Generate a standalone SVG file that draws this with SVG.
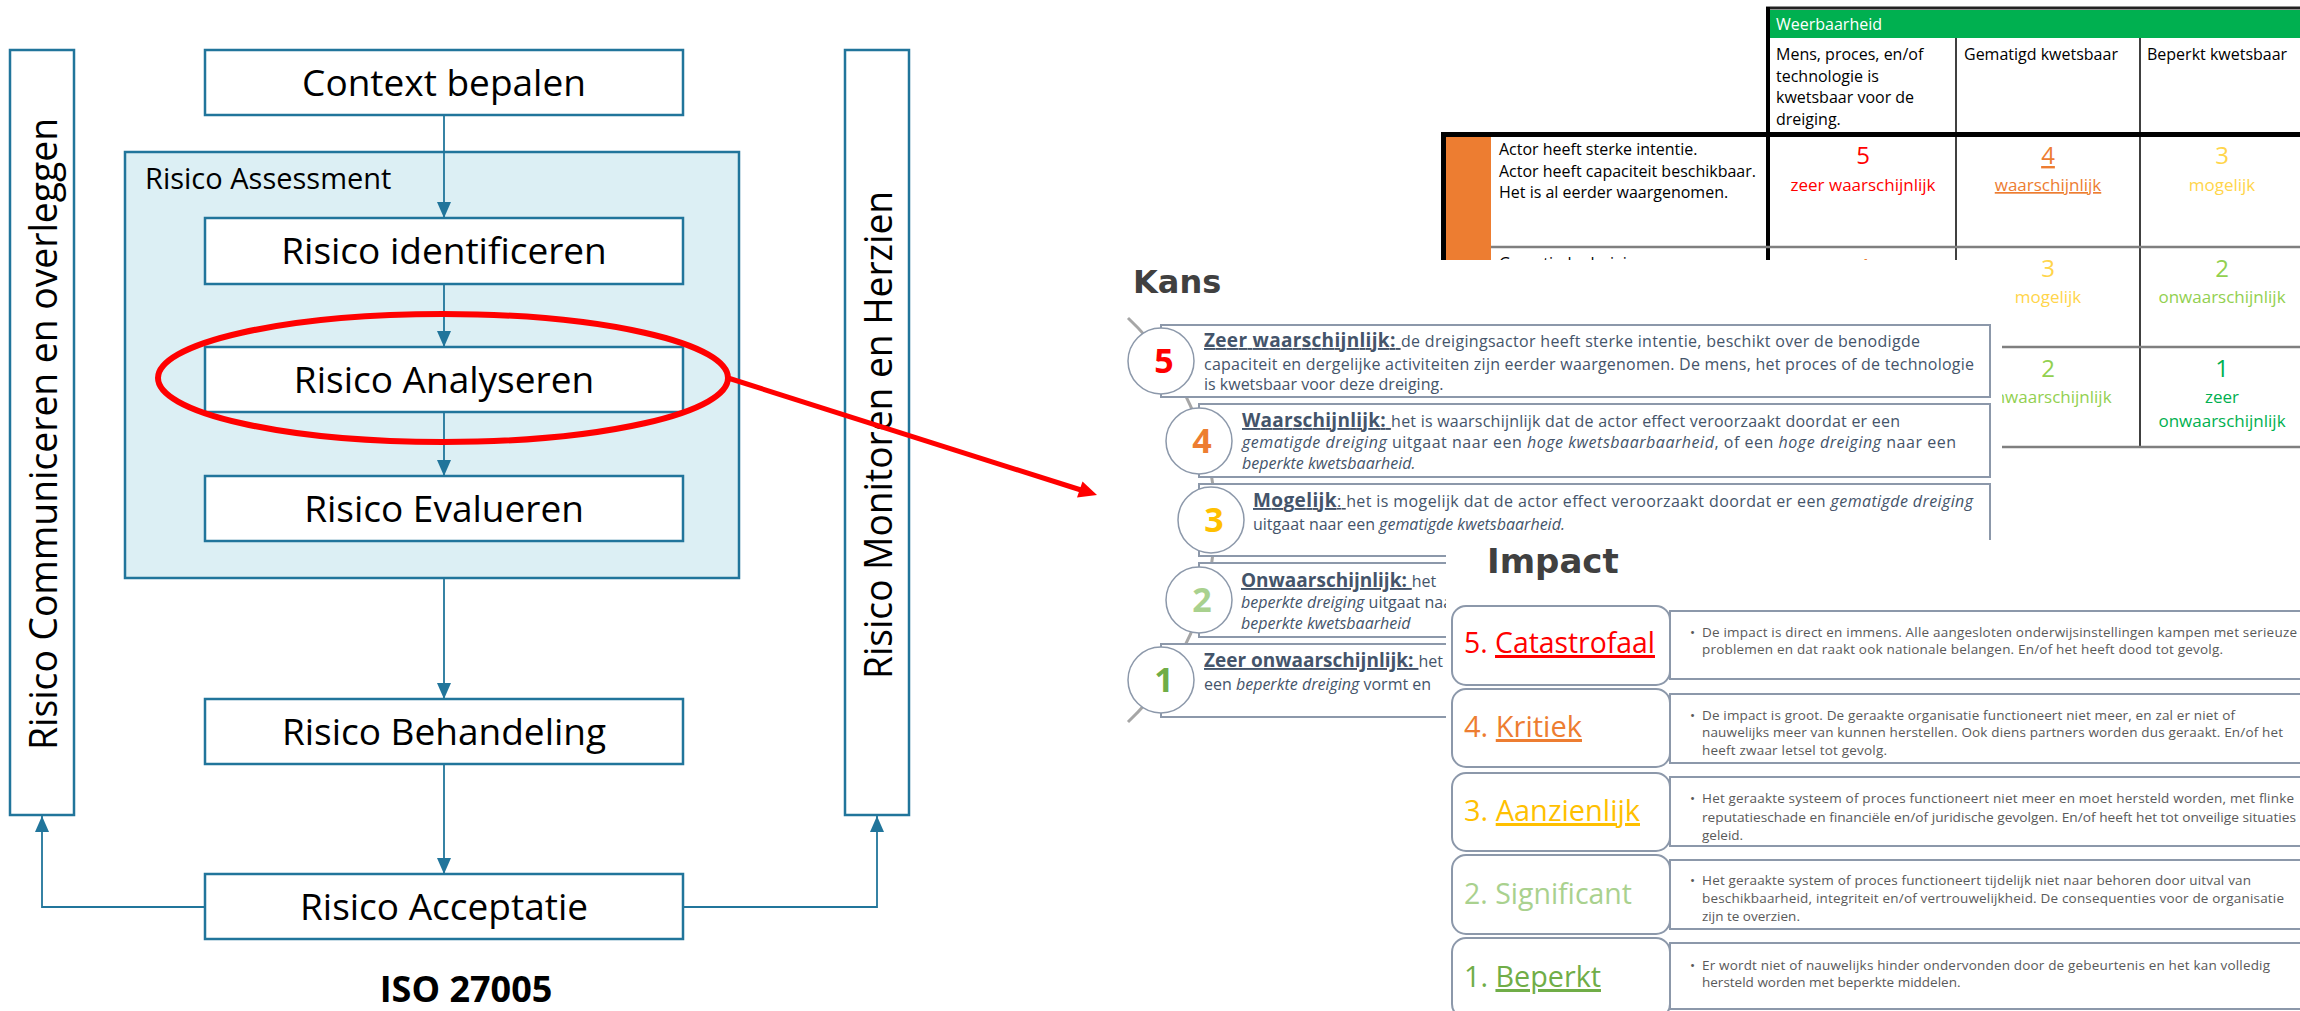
<svg xmlns="http://www.w3.org/2000/svg" width="2300" height="1011" viewBox="0 0 2300 1011">
<style>
.fb{fill:#fff;stroke:#21759B;stroke-width:2.5}
.ft{font-family:'Open Sans',sans-serif;font-size:37px;fill:#000;text-anchor:middle}
.cn{stroke:#21759B;stroke-width:1.8;fill:none}
.tb{font-family:'Open Sans',sans-serif;font-size:16px;fill:#000}
.tn{font-family:'Open Sans',sans-serif;font-size:24px;text-anchor:middle}
.tl{font-family:'Open Sans',sans-serif;font-size:17px;text-anchor:middle}
.kb{font-family:'Open Sans',sans-serif;font-size:16px;fill:#44546A}
.kt{font-weight:bold;font-size:19px;text-decoration:underline}
.u{text-decoration:underline}
.it{font-style:italic}
.kbox{fill:#fff;stroke:#8C98AA;stroke-width:2}
.kc{fill:#fff;stroke:#8C98AA;stroke-width:1.5}
.kn{font-family:'Open Sans',sans-serif;font-weight:bold;font-size:34px;text-anchor:middle}
.ttl{font-family:'DejaVu Sans',sans-serif;font-weight:bold;fill:#404040}
.ib{font-family:'Open Sans',sans-serif;font-size:13.5px;fill:#595959}
.il{font-family:'Open Sans',sans-serif;font-size:30px}
.ilb{fill:#fff;stroke:#8C98AA;stroke-width:2}
.tg{stroke:#7F7F7F;stroke-width:2.5}
.tk{stroke:#000;stroke-width:1.5}
</style>
<defs>
<marker id="ah" markerWidth="16" markerHeight="14" refX="16" refY="7" orient="auto" markerUnits="userSpaceOnUse"><path d="M0,0 L16,7 L0,14 z" fill="#21759B"/></marker>
</defs>
<rect width="2300" height="1011" fill="#fff"/>

<!-- Left flowchart -->
<g id="bar-communiceren"><rect class="fb" x="10" y="50" width="64" height="765"/>
<text class="ft" transform="translate(57,434) rotate(-90)" style="font-size:38px" textLength="632" lengthAdjust="spacingAndGlyphs">Risico Communiceren en overleggen</text></g>
<g id="bar-monitoren"><rect class="fb" x="845" y="50" width="64" height="765"/>
<text class="ft" transform="translate(892,435) rotate(-90)" style="font-size:38px" textLength="488" lengthAdjust="spacingAndGlyphs">Risico Monitoren en Herzien</text></g>
<g id="context"><rect class="fb" x="205" y="50" width="478" height="65"/><text class="ft" x="444" y="96">Context bepalen</text></g>
<g id="assessment"><rect x="125" y="152" width="614" height="426" fill="#DCEFF4" stroke="#21759B" stroke-width="2.5"/>
<text x="145" y="189" style="font-family:'Open Sans',sans-serif;font-size:29px">Risico Assessment</text></g>
<g id="identificeren"><rect class="fb" x="205" y="218" width="478" height="66"/><text class="ft" x="444" y="264">Risico identificeren</text></g>
<g id="analyseren"><rect class="fb" x="205" y="347" width="478" height="65"/><text class="ft" x="444" y="393">Risico Analyseren</text></g>
<g id="evalueren"><rect class="fb" x="205" y="476" width="478" height="65"/><text class="ft" x="444" y="522">Risico Evalueren</text></g>
<g id="behandeling"><rect class="fb" x="205" y="699" width="478" height="65"/><text class="ft" x="444" y="745">Risico Behandeling</text></g>
<g id="acceptatie"><rect class="fb" x="205" y="874" width="478" height="65"/><text class="ft" x="444" y="920">Risico Acceptatie</text></g>
<g id="iso-label"><text x="466" y="1002" style="font-family:'Open Sans',sans-serif;font-weight:bold;font-size:36px;text-anchor:middle">ISO 27005</text></g>

<g id="connectors">
<line class="cn" x1="444" y1="115" x2="444" y2="218" marker-end="url(#ah)"/>
<line class="cn" x1="444" y1="284" x2="444" y2="347" marker-end="url(#ah)"/>
<line class="cn" x1="444" y1="412" x2="444" y2="476" marker-end="url(#ah)"/>
<line class="cn" x1="444" y1="578" x2="444" y2="699" marker-end="url(#ah)"/>
<line class="cn" x1="444" y1="764" x2="444" y2="874" marker-end="url(#ah)"/>
<polyline class="cn" points="205,907 42,907 42,816" marker-end="url(#ah)"/>
<polyline class="cn" points="683,907 877,907 877,816" marker-end="url(#ah)"/>
</g>

<g id="highlight">
<ellipse cx="443" cy="378" rx="285" ry="64" fill="none" stroke="#FF0000" stroke-width="6"/>
<line x1="728" y1="378" x2="1081" y2="490" stroke="#FF0000" stroke-width="5"/>
<polygon points="1097,495 1077,497.5 1082.5,481.5" fill="#FF0000"/>
</g>

<!-- Table -->
<g id="tabel">
<rect x="1770" y="10" width="530" height="28" fill="#00B050"/>
<line x1="1766" y1="8" x2="2300" y2="8" stroke="#222" stroke-width="3"/>
<rect x="1446" y="137" width="45" height="123" fill="#ED7D31"/>
<line x1="1768" y1="7" x2="1768" y2="262" stroke="#000" stroke-width="4"/>
<line x1="1443.5" y1="132" x2="1443.5" y2="262" stroke="#000" stroke-width="5"/>
<line x1="1441" y1="134.5" x2="2300" y2="134.5" stroke="#000" stroke-width="5"/>
<line class="tk" x1="1956" y1="38" x2="1956" y2="262"/>
<line class="tk" x1="2140" y1="38" x2="2140" y2="447"/>
<line class="tg" x1="1491" y1="247" x2="2300" y2="247"/>
<line class="tg" x1="1990" y1="347" x2="2300" y2="347"/>
<line class="tg" x1="1990" y1="447" x2="2300" y2="447"/>
<text class="tb" x="1776" y="30" style="fill:#fff">Weerbaarheid</text>
<text class="tb" x="1776" y="60">Mens, proces, en/of</text>
<text class="tb" x="1776" y="82">technologie is</text>
<text class="tb" x="1776" y="103">kwetsbaar voor de</text>
<text class="tb" x="1776" y="125">dreiging.</text>
<text class="tb" x="1964" y="60">Gematigd kwetsbaar</text>
<text class="tb" x="2147" y="60">Beperkt kwetsbaar</text>
<text class="tb" x="1499" y="155">Actor heeft sterke intentie.</text>
<text class="tb" x="1499" y="177">Actor heeft capaciteit beschikbaar.</text>
<text class="tb" x="1499" y="198">Het is al eerder waargenomen.</text>
<text class="tb" x="1499" y="269">Gematigde dreiging</text>
<text class="tn" x="1863" y="164" fill="#FF0000">5</text>
<text class="tl" x="1863" y="191" fill="#FF0000">zeer waarschijnlijk</text>
<text class="tn u" x="2048" y="164" fill="#ED7D31">4</text>
<text class="tl u" x="2048" y="191" fill="#ED7D31">waarschijnlijk</text>
<text class="tn" x="2222" y="164" fill="#FFD54A">3</text>
<text class="tl" x="2222" y="191" fill="#FFD54A">mogelijk</text>
<text class="tn" x="1863" y="276" fill="#ED7D31">4</text>
<text class="tn" x="2048" y="277" fill="#FFD54A">3</text>
<text class="tl" x="2048" y="303" fill="#FFD54A">mogelijk</text>
<text class="tn" x="2222" y="277" fill="#92D050">2</text>
<text class="tl" x="2222" y="303" fill="#92D050">onwaarschijnlijk</text>
<text class="tn" x="2048" y="377" fill="#92D050">2</text>
<text class="tl" x="2048" y="403" fill="#92D050">onwaarschijnlijk</text>
<text class="tn" x="2222" y="377" fill="#00B050">1</text>
<text class="tl" x="2222" y="403" fill="#00B050">zeer</text>
<text class="tl" x="2222" y="427" fill="#00B050">onwaarschijnlijk</text>
</g>

<!-- Kans -->
<g id="kans">
<rect x="1105" y="260" width="897" height="290" fill="#fff"/>
<text class="ttl" x="1133" y="293" style="font-size:32px">Kans</text>
<path d="M1128,318 A278,278 0 0 1 1128,722" fill="none" stroke="#A6A6A6" stroke-width="3"/>
<rect class="kbox" x="1161" y="325" width="829" height="72"/>
<rect class="kbox" x="1199" y="404" width="791" height="73"/>
<rect class="kbox" x="1199" y="484" width="791" height="72"/>
<rect class="kbox" x="1199" y="563" width="791" height="74"/>
<rect class="kbox" x="1161" y="644" width="829" height="73"/>
<circle class="kc" cx="1161" cy="361" r="33"/>
<circle class="kc" cx="1199" cy="441" r="33"/>
<circle class="kc" cx="1211" cy="520" r="33"/>
<circle class="kc" cx="1199" cy="600" r="33"/>
<circle class="kc" cx="1161" cy="680" r="33"/>
<text class="kn" x="1164" y="373" fill="#FF0000">5</text>
<text class="kn" x="1202" y="453" fill="#ED7D31">4</text>
<text class="kn" x="1214" y="532" fill="#FFC000">3</text>
<text class="kn" x="1202" y="612" fill="#A9D18E">2</text>
<text class="kn" x="1164" y="692" fill="#70AD47">1</text>
<text class="kb" x="1204" y="347" textLength="716" lengthAdjust="spacing"><tspan class="kt">Zeer waarschijnlijk: </tspan> de dreigingsactor heeft sterke intentie, beschikt over de benodigde</text>
<text class="kb" x="1204" y="370" textLength="770" lengthAdjust="spacing">capaciteit en dergelijke activiteiten zijn eerder waargenomen. De mens, het proces of de technologie</text>
<text class="kb" x="1204" y="390">is kwetsbaar voor deze dreiging.</text>
<text class="kb" x="1242" y="427" textLength="658" lengthAdjust="spacing"><tspan class="kt">Waarschijnlijk: </tspan>het is waarschijnlijk dat de actor effect veroorzaakt doordat er een</text>
<text class="kb" x="1242" y="448" textLength="714" lengthAdjust="spacing"><tspan class="it">gematigde dreiging</tspan> uitgaat naar een <tspan class="it">hoge kwetsbaarbaarheid</tspan>, of een <tspan class="it">hoge dreiging</tspan> naar een</text>
<text class="kb it" x="1242" y="469">beperkte kwetsbaarheid.</text>
<text class="kb" x="1253" y="507" textLength="720" lengthAdjust="spacing"><tspan class="kt">Mogelijk</tspan><tspan class="u">: </tspan>het is mogelijk dat de actor effect veroorzaakt doordat er een <tspan class="it">gematigde dreiging</tspan></text>
<text class="kb" x="1253" y="530">uitgaat naar een <tspan class="it">gematigde kwetsbaarheid.</tspan></text>
<text class="kb" x="1241" y="587"><tspan class="kt">Onwaarschijnlijk: </tspan>het</text>
<text class="kb" x="1241" y="608"><tspan class="it">beperkte dreiging</tspan> uitgaat naar</text>
<text class="kb it" x="1241" y="629">beperkte kwetsbaarheid</text>
<text class="kb" x="1204" y="667"><tspan class="kt">Zeer onwaarschijnlijk: </tspan>het</text>
<text class="kb" x="1204" y="690">een <tspan class="it">beperkte dreiging</tspan> vormt en</text>
</g>

<!-- Impact -->
<g id="impact">
<rect x="1446" y="540" width="854" height="471" fill="#fff"/>
<text class="ttl" x="1487" y="573" style="font-size:34px">Impact</text>
<g id="impact-5">
<rect class="ilb" x="1670" y="611" width="640" height="68"/>
<rect class="ilb" x="1452" y="606" width="218" height="79" rx="14"/>
<text class="il" x="1464" y="653" fill="#FF0000" textLength="191" lengthAdjust="spacingAndGlyphs">5. <tspan class="u">Catastrofaal</tspan></text>
<text class="ib" x="1690" y="637">•</text>
<text class="ib" x="1702" y="637" textLength="595" lengthAdjust="spacing">De  impact is direct en immens. Alle aangesloten onderwijsinstellingen kampen met serieuze</text>
<text class="ib" x="1702" y="654" textLength="521" lengthAdjust="spacing">problemen en dat raakt ook nationale belangen. En/of het heeft dood tot gevolg.</text>
</g>
<g id="impact-4">
<rect class="ilb" x="1670" y="694" width="640" height="69"/>
<rect class="ilb" x="1452" y="689" width="218" height="78" rx="14"/>
<text class="il" x="1464" y="737" fill="#ED7D31" textLength="118" lengthAdjust="spacingAndGlyphs">4. <tspan class="u">Kritiek</tspan></text>
<text class="ib" x="1690" y="720">•</text>
<text class="ib" x="1702" y="720" textLength="533" lengthAdjust="spacing">De impact is groot. De geraakte organisatie functioneert niet meer, en zal er niet of</text>
<text class="ib" x="1702" y="737" textLength="581" lengthAdjust="spacing">nauwelijks meer van kunnen herstellen. Ook diens partners worden dus geraakt. En/of het</text>
<text class="ib" x="1702" y="755" textLength="185" lengthAdjust="spacing">heeft zwaar letsel tot gevolg.</text>
</g>
<g id="impact-3">
<rect class="ilb" x="1670" y="777" width="640" height="69"/>
<rect class="ilb" x="1452" y="773" width="218" height="78" rx="14"/>
<text class="il" x="1464" y="821" fill="#FFC000" textLength="176" lengthAdjust="spacingAndGlyphs">3. <tspan class="u">Aanzienlijk</tspan></text>
<text class="ib" x="1690" y="803">•</text>
<text class="ib" x="1702" y="803" textLength="592" lengthAdjust="spacing">Het geraakte systeem of proces functioneert niet meer en moet hersteld worden, met flinke</text>
<text class="ib" x="1702" y="822" textLength="594" lengthAdjust="spacingAndGlyphs">reputatieschade en financiële en/of juridische gevolgen. En/of heeft het tot onveilige situaties</text>
<text class="ib" x="1702" y="840">geleid.</text>
</g>
<g id="impact-2">
<rect class="ilb" x="1670" y="860" width="640" height="69"/>
<rect class="ilb" x="1452" y="855" width="218" height="79" rx="14"/>
<text class="il" x="1464" y="904" fill="#A9D18E" textLength="168" lengthAdjust="spacingAndGlyphs">2. Significant</text>
<text class="ib" x="1690" y="885">•</text>
<text class="ib" x="1702" y="885" textLength="549" lengthAdjust="spacing">Het geraakte system of proces functioneert tijdelijk niet naar behoren door uitval van</text>
<text class="ib" x="1702" y="903" textLength="582" lengthAdjust="spacing">beschikbaarheid, integriteit en/of vertrouwelijkheid. De consequenties voor de organisatie</text>
<text class="ib" x="1702" y="921">zijn te overzien.</text>
</g>
<g id="impact-1">
<rect class="ilb" x="1670" y="943" width="640" height="66"/>
<rect class="ilb" x="1452" y="938" width="218" height="80" rx="14"/>
<text class="il" x="1464" y="987" fill="#70AD47" textLength="137" lengthAdjust="spacingAndGlyphs">1. <tspan class="u">Beperkt</tspan></text>
<text class="ib" x="1690" y="970">•</text>
<text class="ib" x="1702" y="970" textLength="568" lengthAdjust="spacing">Er wordt niet of nauwelijks hinder ondervonden door de gebeurtenis en het kan volledig</text>
<text class="ib" x="1702" y="987">hersteld worden met beperkte middelen.</text>
</g>
</g>
</svg>
